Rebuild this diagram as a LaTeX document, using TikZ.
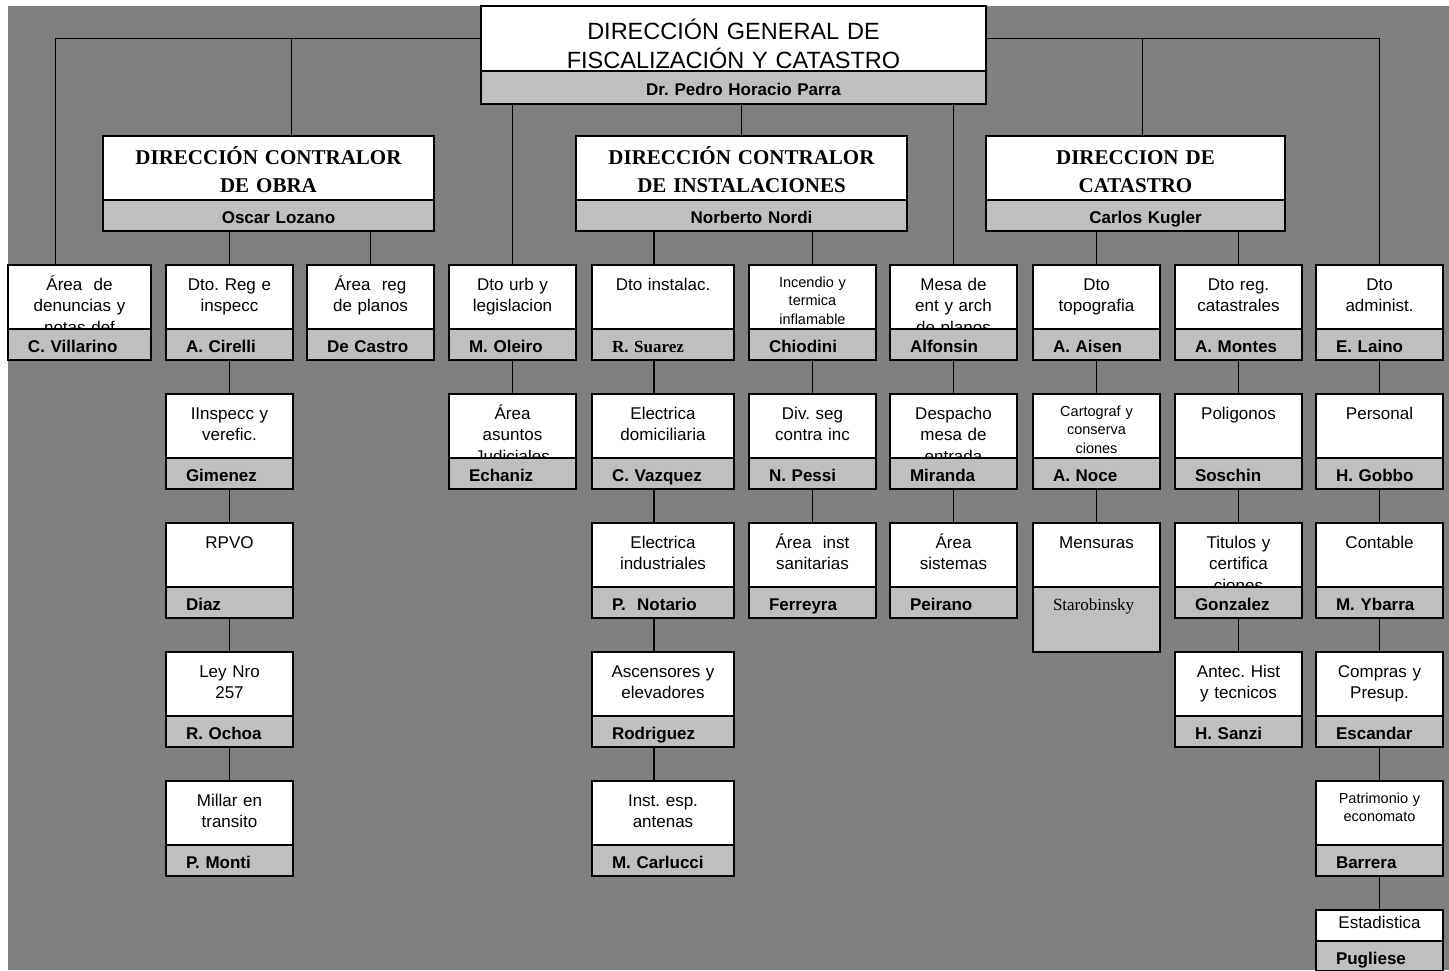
\documentclass[tikz,border=0pt]{standalone}
\usepackage{fontspec}
\setmainfont{Liberation Sans}
\newfontfamily\serifa{Liberation Serif}
\usetikzlibrary{positioning}
\frenchspacing

\begin{document}
\begin{tikzpicture}[x=1pt,y=-1pt,line width=1.2pt,
  every node/.style={outer sep=0pt},
  area/.style={draw,fill=white,inner sep=0pt,anchor=north west,
    text width=#1,align=center,text height=25pt,text depth=39pt,
    font=\fontsize{17}{21.5}\selectfont},
  area/.default=127pt,
  jefe/.style={draw,fill=gray!50,inner sep=0pt,text width=#1,align=left,
    text height=23pt,text depth=8pt,
    font=\bfseries\fontsize{17}{18}\selectfont,
    execute at begin node=\hspace*{20pt}},
  jefe/.default=127pt,
  chico/.style={font=\fontsize{14.5}{18.5}\selectfont,text height=22pt,text depth=42pt},
  titulo/.style={area=#1,text height=28pt,text depth=36pt,
    font=\serifa\bfseries\fontsize{21}{28}\selectfont},
  nombre/.style={jefe=#1,align=center,execute at begin node={},
    font=\bfseries\fontsize{17}{18}\selectfont}]

\useasboundingbox (0,0) rectangle (1449,970);
\fill[white] (0,0) rectangle (1449,970);
\fill[gray] (8,6) rectangle (1449,970);

% direccion general
\node[titulo=505pt,text height=33pt,text depth=32pt,
  font=\fontsize{23.5}{29}\selectfont] (dg) at (481,6)
  {DIRECCIÓN GENERAL DE\\ FISCALIZACIÓN Y CATASTRO};
\node[nombre=505pt,text height=24pt,text depth=9pt] (parra) [below=0pt of dg] {Dr. Pedro Horacio Parra};

% direcciones
\node[titulo=331pt] (d_obra) at (103,136) {DIRECCIÓN CONTRALOR\\ DE OBRA};
\node[nombre=331pt] (lozano) [below=0pt of d_obra] {Oscar Lozano};
\node[titulo=331pt] (d_inst) at (576,136) {DIRECCIÓN CONTRALOR\\ DE INSTALACIONES};
\node[nombre=331pt] (nordi) [below=0pt of d_inst] {Norberto Nordi};
\node[titulo=299pt] (d_cat) at (986,136) {DIRECCION DE\\ CATASTRO};
\node[nombre=299pt] (kugler) [below=0pt of d_cat] {Carlos Kugler};

% primera fila
\node[area=143pt] (denuncias) at (8,265) {Área\ \ de\\ denuncias y\\ notas def};
\node[jefe=143pt] (villarino) [below=0pt of denuncias] {C. Villarino};
\node[area] (dto_reg) at (166,265) {Dto. Reg e\\ inspecc};
\node[jefe] (cirelli) [below=0pt of dto_reg] {A. Cirelli};
\node[area] (reg_planos) at (307,265) {Área\ \ reg\\ de planos};
\node[jefe] (decastro) [below=0pt of reg_planos] {De Castro};
\node[area] (dto_urb) at (449,265) {Dto urb y\\ legislacion};
\node[jefe] (oleiro) [below=0pt of dto_urb] {M. Oleiro};
\node[area=142pt] (dto_inst) at (592,265) {Dto instalac.};
\node[jefe=142pt,font=\serifa\bfseries\fontsize{17}{18}\selectfont] (suarez) [below=0pt of dto_inst] {R. Suarez};
\node[area,chico] (incendio) at (749,265) {Incendio y\\ termica\\ inflamable};
\node[jefe] (chiodini) [below=0pt of incendio] {Chiodini};
\node[area] (mesa_ent) at (890,265) {Mesa de\\ ent y arch\\ de planos};
\node[jefe] (alfonsin) [below=0pt of mesa_ent] {Alfonsin};
\node[area] (dto_topo) at (1033,265) {Dto\\ topografia};
\node[jefe] (aisen) [below=0pt of dto_topo] {A. Aisen};
\node[area] (dto_cat) at (1175,265) {Dto reg.\\ catastrales};
\node[jefe] (montes) [below=0pt of dto_cat] {A. Montes};
\node[area] (dto_adm) at (1316,265) {Dto\\ administ.};
\node[jefe] (laino) [below=0pt of dto_adm] {E. Laino};

% obra
\node[area] (inspecc) [below=34pt of cirelli] {IInspecc y\\ verefic.};
\node[jefe] (gimenez) [below=0pt of inspecc] {Gimenez};
\node[area] (rpvo) [below=34pt of gimenez] {RPVO};
\node[jefe] (diaz) [below=0pt of rpvo] {Diaz};
\node[area] (ley257) [below=34pt of diaz] {Ley Nro\\ 257};
\node[jefe] (ochoa) [below=0pt of ley257] {R. Ochoa};
\node[area] (millar) [below=34pt of ochoa] {Millar en\\ transito};
\node[jefe] (monti) [below=0pt of millar] {P. Monti};
\node[area] (judiciales) [below=34pt of oleiro] {Área\\ asuntos\\ Judiciales};
\node[jefe] (echaniz) [below=0pt of judiciales] {Echaniz};

% instalaciones
\node[area=142pt] (elec_dom) [below=34pt of suarez] {Electrica\\ domiciliaria};
\node[jefe=142pt] (vazquez) [below=0pt of elec_dom] {C. Vazquez};
\node[area=142pt] (elec_ind) [below=34pt of vazquez] {Electrica\\ industriales};
\node[jefe=142pt] (notario) [below=0pt of elec_ind] {P.\ \ Notario};
\node[area=142pt] (ascensores) [below=34pt of notario] {Ascensores y\\ elevadores};
\node[jefe=142pt] (rodriguez) [below=0pt of ascensores] {Rodriguez};
\node[area=142pt] (antenas) [below=34pt of rodriguez] {Inst. esp.\\ antenas};
\node[jefe=142pt] (carlucci) [below=0pt of antenas] {M. Carlucci};
\node[area] (div_seg) [below=34pt of chiodini] {Div. seg\\ contra inc};
\node[jefe] (pessi) [below=0pt of div_seg] {N. Pessi};
\node[area] (sanitarias) [below=34pt of pessi] {Área\ \ inst\\ sanitarias};
\node[jefe] (ferreyra) [below=0pt of sanitarias] {Ferreyra};
\node[area] (despacho) [below=34pt of alfonsin] {Despacho\\ mesa de\\ entrada};
\node[jefe] (miranda) [below=0pt of despacho] {Miranda};
\node[area] (sistemas) [below=34pt of miranda] {Área\\ sistemas};
\node[jefe] (peirano) [below=0pt of sistemas] {Peirano};

% catastro
\node[area,chico] (cartograf) [below=34pt of aisen] {Cartograf y\\ conserva\\ ciones};
\node[jefe] (noce) [below=0pt of cartograf] {A. Noce};
\node[area] (mensuras) [below=34pt of noce] {Mensuras};
\node[jefe,text depth=42pt,font=\serifa\fontsize{17}{18}\selectfont] (starobinsky) [below=0pt of mensuras] {Starobinsky};
\node[area] (poligonos) [below=34pt of montes] {Poligonos};
\node[jefe] (soschin) [below=0pt of poligonos] {Soschin};
\node[area] (titulos) [below=34pt of soschin] {Titulos y\\ certifica\\ ciones};
\node[jefe] (gonzalez) [below=0pt of titulos] {Gonzalez};
\node[area] (antec) [below=34pt of gonzalez] {Antec. Hist\\ y tecnicos};
\node[jefe] (sanzi) [below=0pt of antec] {H. Sanzi};

% administracion
\node[area] (personal) [below=34pt of laino] {Personal};
\node[jefe] (gobbo) [below=0pt of personal] {H. Gobbo};
\node[area] (contable) [below=34pt of gobbo] {Contable};
\node[jefe] (ybarra) [below=0pt of contable] {M. Ybarra};
\node[area] (compras) [below=34pt of ybarra] {Compras y\\ Presup.};
\node[jefe] (escandar) [below=0pt of compras] {Escandar};
\node[area,chico] (patrimonio) [below=34pt of escandar] {Patrimonio y\\ economato};
\node[jefe] (barrera) [below=0pt of patrimonio] {Barrera};
\node[area,text height=18pt,text depth=13pt] (estadistica) [below=34pt of barrera] {Estadistica};
\node[jefe,text depth=7pt] (pugliese) [below=0pt of estadistica] {Pugliese};

% lineas
\draw (dg.west) -| ([xshift=-24pt]denuncias.north);
\draw (dg.west) -| ([xshift=23pt]d_obra.north);
\draw (dg.east) -| ([xshift=7pt]d_cat.north);
\draw (dg.east) -| (dto_adm.north);

\path (parra.south -| dto_urb.north) edge (dto_urb.north)
  (parra.south -| d_inst.north) edge (d_inst.north)
  (parra.south -| mesa_ent.north) edge (mesa_ent.north)
  (lozano.south -| dto_reg.north) edge (dto_reg.north)
  (lozano.south -| reg_planos.north) edge (reg_planos.north)
  ([xshift=-9pt]dto_inst.north |- nordi.south) edge ([xshift=-9pt]dto_inst.north)
  (nordi.south -| incendio.north) edge (incendio.north)
  (kugler.south -| dto_topo.north) edge (dto_topo.north)
  (kugler.south -| dto_cat.north) edge (dto_cat.north);

\path (cirelli) edge (inspecc)
  (gimenez) edge (rpvo)
  (diaz) edge (ley257)
  (ochoa) edge (millar)
  (oleiro) edge (judiciales)
  ([xshift=-9pt]suarez.south) edge ([xshift=-9pt]elec_dom.north)
  ([xshift=-9pt]vazquez.south) edge ([xshift=-9pt]elec_ind.north)
  ([xshift=-9pt]notario.south) edge ([xshift=-9pt]ascensores.north)
  ([xshift=-9pt]rodriguez.south) edge ([xshift=-9pt]antenas.north)
  (chiodini) edge (div_seg)
  (pessi) edge (sanitarias)
  (alfonsin) edge (despacho)
  (miranda) edge (sistemas)
  (aisen) edge (cartograf)
  (noce) edge (mensuras)
  (montes) edge (poligonos)
  (soschin) edge (titulos)
  (gonzalez) edge (antec)
  (laino) edge (personal)
  (gobbo) edge (contable)
  (ybarra) edge (compras)
  (escandar) edge (patrimonio)
  (barrera) edge (estadistica);

\end{tikzpicture}
\end{document}
